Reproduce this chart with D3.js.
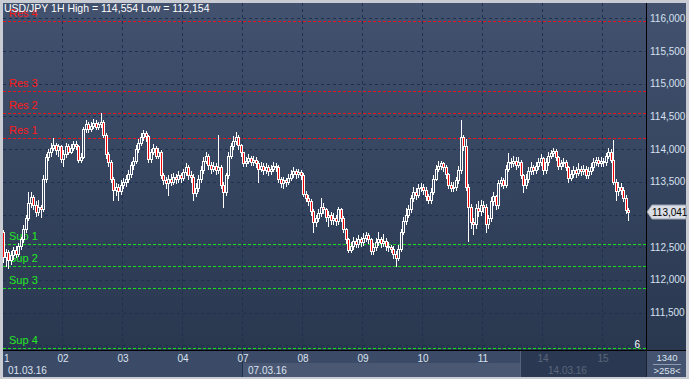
<!DOCTYPE html>
<html>
<head>
<meta charset="utf-8">
<script src="https://cdn.jsdelivr.net/npm/d3@7"></script>
<style>
  html, body { margin: 0; padding: 0; background: #c9ccd2; }
  svg { display: block; font-family: "Liberation Sans", Arial, sans-serif; }
</style>
</head>
<body>
<div id="chart"></div>
<script>
var width = 689
var height = 379

// USD/JPY hourly bars, 01.03.16 - 15.03.16 (open of each bar = previous close)
var firstOpen = 112.73
var closes = [
  112.35,112.42,112.30,112.38,112.45,112.40,112.52,112.62,112.78,112.95,113.18,113.26,113.14,113.04,113.12,113.08,113.55,113.88,113.95,114.02,114.06,113.98,114.04,113.85,
  113.92,114.05,113.96,114.02,114.08,114.05,113.84,113.88,114.30,114.38,114.30,114.36,114.40,114.34,114.38,114.42,114.22,113.92,113.80,113.55,113.38,113.42,113.36,113.45,
  113.50,113.55,113.62,113.75,113.82,114.00,114.10,114.18,114.25,114.20,113.85,113.95,114.02,113.90,113.96,113.60,113.52,113.48,113.55,113.50,113.58,113.55,113.60,113.56,
  113.65,113.72,113.60,113.58,113.33,113.40,113.55,113.68,113.82,113.90,113.76,113.70,113.74,113.68,113.72,113.45,113.35,113.60,113.90,114.05,114.12,114.18,114.06,113.95,
  113.78,113.82,113.86,113.80,113.84,113.78,113.70,113.74,113.68,113.72,113.66,113.70,113.74,113.72,113.55,113.48,113.52,113.50,113.56,113.62,113.66,113.62,113.65,113.60,
  113.32,113.25,113.20,113.05,112.88,112.95,113.02,113.12,113.08,112.96,113.00,112.92,112.95,112.90,113.08,112.95,112.78,112.62,112.46,112.52,112.60,112.55,112.62,112.58,
  112.64,112.68,112.62,112.44,112.50,112.58,112.62,112.56,112.60,112.52,112.50,112.48,112.40,112.33,112.48,112.74,112.90,113.00,113.08,113.25,113.35,113.30,113.40,113.42,
  113.38,113.28,113.22,113.35,113.55,113.70,113.74,113.78,113.72,113.62,113.45,113.40,113.42,113.52,113.68,114.18,114.05,113.42,113.12,112.88,112.85,113.10,113.05,113.15,
  113.12,112.85,112.95,113.20,113.28,113.15,113.48,113.52,113.45,113.70,113.80,113.78,113.82,113.76,113.80,113.60,113.45,113.55,113.66,113.72,113.68,113.74,113.80,113.86,
  113.68,113.80,113.90,113.94,113.97,113.88,113.74,113.78,113.80,113.72,113.56,113.62,113.68,113.64,113.70,113.66,113.70,113.60,113.66,113.72,113.80,113.84,113.78,113.82,
  113.80,113.90,113.96,113.84,113.50,113.36,113.42,113.38,113.25,113.07,113.041
]
var highs = [
  112.77,112.48,112.45,112.44,112.50,112.52,112.56,112.66,112.84,113.00,113.35,113.34,113.30,113.20,113.22,113.15,113.60,113.92,114.00,114.10,114.17,114.10,114.08,114.07,
  113.98,114.10,114.08,114.08,114.12,114.12,114.06,113.94,114.34,114.44,114.42,114.42,114.46,114.44,114.42,114.554,114.44,114.24,113.96,113.84,113.58,113.48,113.46,113.52,
  113.56,113.60,113.68,113.80,113.88,114.06,114.16,114.24,114.29,114.28,114.22,114.00,114.08,114.04,114.02,113.98,113.64,113.58,113.60,113.62,113.64,113.62,113.66,113.64,
  113.70,113.78,113.75,113.66,113.62,113.48,113.60,113.74,113.88,113.96,113.92,113.80,113.80,113.78,114.22,113.76,113.50,113.64,113.95,114.10,114.20,114.26,114.22,114.08,
  113.96,113.88,113.92,113.90,113.90,113.88,113.82,113.80,113.78,113.78,113.76,113.76,113.80,113.78,113.76,113.58,113.58,113.56,113.62,113.68,113.72,113.70,113.70,113.68,
  113.64,113.36,113.30,113.24,113.08,113.00,113.08,113.25,113.18,113.10,113.06,113.04,113.02,113.00,113.12,113.10,112.98,112.80,112.64,112.58,112.66,112.64,112.68,112.66,
  112.72,112.74,112.72,112.64,112.56,112.64,112.74,112.66,112.70,112.64,112.58,112.54,112.52,112.44,112.54,112.78,112.96,113.10,113.14,113.30,113.42,113.40,113.46,113.48,
  113.46,113.42,113.32,113.40,113.60,113.76,113.82,113.82,113.80,113.76,113.64,113.50,113.50,113.58,113.74,114.45,114.22,114.16,113.46,113.16,112.95,113.16,113.20,113.22,
  113.20,113.16,113.00,113.26,113.34,113.30,113.52,113.58,113.56,113.76,113.94,113.86,113.90,113.88,113.88,113.84,113.62,113.62,113.72,113.80,113.76,113.80,113.86,113.92,
  113.88,113.86,113.96,113.98,114.02,114.00,113.90,113.84,113.86,113.84,113.74,113.68,113.74,113.72,113.78,113.74,113.76,113.74,113.72,113.78,113.86,113.88,113.88,113.88,
  113.86,113.94,114.02,114.00,114.14,113.54,113.50,113.48,113.42,113.30,113.10
]
var lows = [
  112.28,112.22,112.18,112.25,112.32,112.35,112.36,112.48,112.58,112.74,112.92,113.12,113.08,112.98,113.00,112.96,113.05,113.50,113.84,113.90,113.98,113.92,113.90,113.80,
  113.74,113.88,113.92,113.94,113.98,114.00,113.80,113.80,113.86,114.26,114.26,114.28,114.32,114.30,114.30,114.34,114.18,113.86,113.74,113.50,113.22,113.30,113.22,113.32,
  113.40,113.44,113.50,113.58,113.70,113.78,113.96,114.06,114.14,114.12,113.80,113.80,113.92,113.86,113.86,113.56,113.46,113.40,113.30,113.45,113.46,113.48,113.50,113.50,
  113.52,113.60,113.55,113.50,113.22,113.28,113.36,113.50,113.64,113.78,113.70,113.64,113.66,113.62,113.64,113.40,113.12,113.30,113.56,113.86,114.00,114.08,114.00,113.90,
  113.74,113.74,113.78,113.76,113.76,113.72,113.50,113.66,113.62,113.64,113.60,113.62,113.66,113.66,113.50,113.42,113.40,113.44,113.46,113.52,113.58,113.56,113.58,113.54,
  113.28,113.20,113.14,113.00,112.73,112.82,112.90,112.98,113.02,112.90,112.82,112.86,112.86,112.84,112.86,112.90,112.74,112.56,112.42,112.42,112.48,112.50,112.50,112.52,
  112.54,112.60,112.56,112.40,112.40,112.46,112.54,112.50,112.52,112.46,112.44,112.42,112.34,112.22,112.30,112.44,112.70,112.86,112.96,113.04,113.20,113.24,113.26,113.36,
  113.32,113.22,113.18,113.18,113.32,113.52,113.66,113.70,113.66,113.56,113.40,113.36,113.36,113.38,113.48,113.64,113.98,113.38,112.60,112.80,112.70,112.80,112.98,113.00,
  113.04,112.73,112.80,112.90,113.14,113.08,113.10,113.44,113.40,113.42,113.66,113.72,113.74,113.70,113.72,113.56,113.35,113.40,113.50,113.62,113.62,113.64,113.70,113.76,
  113.62,113.64,113.76,113.86,113.90,113.84,113.70,113.70,113.74,113.68,113.50,113.52,113.58,113.58,113.60,113.60,113.62,113.56,113.56,113.62,113.68,113.76,113.74,113.74,
  113.74,113.76,113.86,113.80,113.46,113.22,113.30,113.32,113.20,113.02,112.92
]

var dayLabels = ['1', '02', '03', '04', '07', '08', '09', '10', '11', '14', '15']
var barsPerDay = 24
var weekLabels = ['01.03.16', '07.03.16', '14.03.16']
var weekDayIndex = [0, 4, 9]

var levelNames = ['Res 4', 'Res 3', 'Res 2', 'Res 1', 'Sup 1', 'Sup 2', 'Sup 3', 'Sup 4']
var levelValues = [115.959, 114.888, 114.547, 114.165, 112.549, 112.208, 111.872, 110.954]

// 113,000 sits under the last-price tag, so it is not listed
var yTicks = [111.5, 112, 112.5, 113.5, 114, 114.5, 115, 115.5, 116]
var gridValues = [111, 111.5, 112, 112.5, 113, 113.5, 114, 114.5, 115, 115.5, 116]

var titleText = 'USD/JPY 1H  High = 114,554 Low = 112,154'
var lastPrice = 113.041

var plot = { left: 3, top: 3, right: 646, bottom: 350 }

var bars = closes.map((c, i) => ({
  i: i,
  o: i === 0 ? firstOpen : closes[i - 1],
  c: c,
  h: highs[i],
  l: lows[i]
}))

var xScale = d3.scaleLinear()
    .domain([0, closes.length])
    .range([2, 2 + closes.length * 2.5])

var yScale = d3.scaleLinear()
    .domain([111.5, 116])
    .range([312.6, 18.3])

var priceFmt = v => d3.format('.3f')(v).replace('.', ',')

var svg = d3.select('#chart').append('svg')
    .attr('width', width)
    .attr('height', height)

var defs = svg.append('defs')
var grad = defs.append('linearGradient')
    .attr('id', 'bg')
    .attr('gradientUnits', 'userSpaceOnUse')
    .attr('x1', 0).attr('y1', plot.top)
    .attr('x2', 0).attr('y2', plot.bottom)
grad.append('stop').attr('offset', 0).attr('stop-color', '#42526f')
grad.append('stop').attr('offset', 1).attr('stop-color', '#29374f')

defs.append('clipPath').attr('id', 'plotclip')
  .append('rect')
    .attr('x', plot.left).attr('y', plot.top)
    .attr('width', plot.right - plot.left).attr('height', plot.bottom - plot.top)

// frame
svg.append('rect').attr('width', width).attr('height', height).attr('fill', '#c9ccd2')
svg.append('rect')
    .attr('x', plot.left).attr('y', plot.top)
    .attr('width', 686 - plot.left).attr('height', plot.bottom - plot.top)
    .attr('fill', 'url(#bg)')

var g = svg.append('g').attr('clip-path', 'url(#plotclip)')

// grid
g.selectAll('line.hgrid')
  .data(gridValues)
  .enter().append('line')
    .attr('class', 'hgrid')
    .attr('x1', plot.left).attr('x2', plot.right)
    .attr('y1', d => Math.round(yScale(d)) + 0.5)
    .attr('y2', d => Math.round(yScale(d)) + 0.5)
    .attr('stroke', '#1d3050')
    .attr('stroke-dasharray', '3,3')

g.selectAll('line.vgrid')
  .data(dayLabels.slice(1))
  .enter().append('line')
    .attr('class', 'vgrid')
    .attr('x1', (d, k) => Math.round(xScale((k + 1) * barsPerDay)) + 0.5)
    .attr('x2', (d, k) => Math.round(xScale((k + 1) * barsPerDay)) + 0.5)
    .attr('y1', plot.top).attr('y2', plot.bottom)
    .attr('stroke', '#1d3050')
    .attr('stroke-dasharray', '3,3')

// support / resistance levels
var isRes = n => n.indexOf('Res') === 0
g.selectAll('line.level')
  .data(levelValues)
  .enter().append('line')
    .attr('class', 'level')
    .attr('x1', plot.left).attr('x2', plot.right)
    .attr('y1', d => Math.round(yScale(d)) + 0.5)
    .attr('y2', d => Math.round(yScale(d)) + 0.5)
    .attr('stroke', (d, i) => isRes(levelNames[i]) ? '#e8141e' : '#19e01c')
    .attr('stroke-dasharray', '3,2')

g.selectAll('text.level')
  .data(levelValues)
  .enter().append('text')
    .attr('class', 'level')
    .attr('x', 9)
    .attr('y', d => Math.round(yScale(d)) - 4)
    .attr('font-size', 11)
    .attr('fill', (d, i) => isRes(levelNames[i]) ? '#ff1a1a' : '#22e822')
    .text((d, i) => levelNames[i])

// candles
var cx = d => Math.round(xScale(d.i + 0.5))
var py = v => Math.round(yScale(v))

var candle = g.selectAll('g.bar')
  .data(bars)
  .enter().append('g').attr('class', 'bar')

candle.append('line')
    .attr('x1', d => cx(d) + 0.5).attr('x2', d => cx(d) + 0.5)
    .attr('y1', d => py(d.h))
    .attr('y2', d => py(d.l) + 1)
    .attr('stroke', '#ffffff')

candle.append('rect')
    .attr('x', d => cx(d) - 0.5)
    .attr('y', d => py(Math.max(d.o, d.c)) + 0.5)
    .attr('width', 2)
    .attr('height', d => Math.max(1, py(Math.min(d.o, d.c)) - py(Math.max(d.o, d.c))))
    .attr('fill', d => d.c < d.o ? '#f00000' : 'url(#bg)')
    .attr('stroke', '#ffffff')

// title
svg.append('text')
    .attr('x', 4).attr('y', 12)
    .attr('font-size', 10.5)
    .attr('fill', '#ffffff')
    .text(titleText)

svg.append('text')
    .attr('x', 640).attr('y', 348)
    .attr('text-anchor', 'end')
    .attr('font-size', 10)
    .attr('fill', '#ffffff')
    .text('6')

// right price axis
svg.append('line')
    .attr('x1', plot.right + 0.5).attr('x2', plot.right + 0.5)
    .attr('y1', plot.top).attr('y2', plot.bottom)
    .attr('stroke', '#000000')

svg.selectAll('text.ytick')
  .data(yTicks)
  .enter().append('text')
    .attr('class', 'ytick')
    .attr('x', 650)
    .attr('y', d => yScale(d) + 3.5)
    .attr('font-size', 10)
    .attr('fill', '#d6e0f0')
    .text(priceFmt)

var tagY = Math.round(yScale(lastPrice))
svg.append('path')
    .attr('d', `M647,${tagY} L652,${tagY - 7} L686,${tagY - 7} L686,${tagY + 7} L652,${tagY + 7} Z`)
    .attr('fill', '#d9dde4')
    .attr('stroke', '#9aa2b0')
svg.append('text')
    .attr('x', 652).attr('y', tagY + 4)
    .attr('font-size', 10)
    .attr('fill', '#000000')
    .text(priceFmt(lastPrice))

// time axis
var axisTop = plot.bottom
svg.append('rect')
    .attr('x', plot.left).attr('y', axisTop)
    .attr('width', 683).attr('height', 27)
    .attr('fill', '#3b4a66')
svg.append('line')
    .attr('x1', plot.left).attr('x2', 686)
    .attr('y1', axisTop + 0.5).attr('y2', axisTop + 0.5)
    .attr('stroke', '#000000')

var wk = weekDayIndex.map(k => Math.round(xScale(k * barsPerDay)))
svg.append('rect')
    .attr('x', wk[1]).attr('y', 363)
    .attr('width', 520 - wk[1]).attr('height', 14)
    .attr('fill', '#4a5874')
svg.append('line')
    .attr('x1', wk[1] + 0.5).attr('x2', wk[1] + 0.5)
    .attr('y1', axisTop + 1).attr('y2', 377)
    .attr('stroke', '#1d3050')

svg.selectAll('text.day')
  .data(dayLabels)
  .enter().append('text')
    .attr('class', 'day')
    .attr('x', (d, k) => k === 0 ? 4 : xScale(k * barsPerDay) + 1)
    .attr('y', 362)
    .attr('text-anchor', (d, k) => k === 0 ? 'start' : 'middle')
    .attr('font-size', 10)
    .attr('fill', '#dbe3f0')
    .text(d => d)

svg.selectAll('text.week')
  .data(weekLabels)
  .enter().append('text')
    .attr('class', 'week')
    .attr('x', (d, k) => wk[k] + 6)
    .attr('y', 374)
    .attr('font-size', 10)
    .attr('fill', '#dbe3f0')
    .text(d => d)

// shaded part of the scroller
svg.append('rect')
    .attr('x', 520).attr('y', axisTop + 1)
    .attr('width', plot.right - 520).attr('height', 26)
    .attr('fill', '#26324a')
    .attr('fill-opacity', 0.72)
svg.append('line')
    .attr('x1', 520.5).attr('x2', 520.5)
    .attr('y1', axisTop + 1).attr('y2', 377)
    .attr('stroke', '#55627c')

// corner box
svg.append('rect')
    .attr('x', plot.right + 1).attr('y', axisTop + 1)
    .attr('width', 686 - plot.right - 1).attr('height', 26)
    .attr('fill', '#44536f')
svg.append('line')
    .attr('x1', plot.right + 0.5).attr('x2', plot.right + 0.5)
    .attr('y1', axisTop).attr('y2', 377)
    .attr('stroke', '#1a2233')
svg.append('text')
    .attr('x', 667).attr('y', 361)
    .attr('text-anchor', 'middle')
    .attr('font-size', 9.5)
    .attr('fill', '#dbe3f0')
    .text('1340')
svg.append('line')
    .attr('x1', 653).attr('x2', 681)
    .attr('y1', 364.5).attr('y2', 364.5)
    .attr('stroke', '#8f9bb2')
svg.append('text')
    .attr('x', 667).attr('y', 374)
    .attr('text-anchor', 'middle')
    .attr('font-size', 9.5)
    .attr('fill', '#dbe3f0')
    .text('>258<')
</script>
</body>
</html>
